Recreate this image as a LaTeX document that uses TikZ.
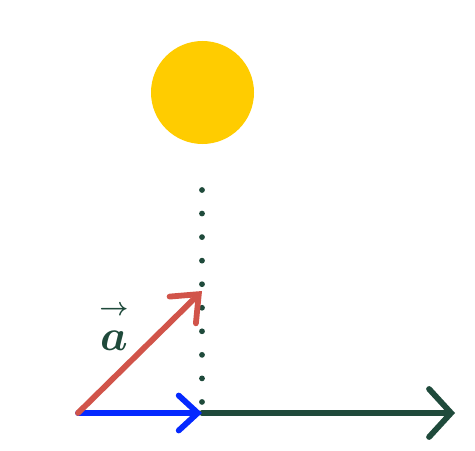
\documentclass[tikz,border=0pt]{standalone}
\usepackage{amsmath,bm}
\usetikzlibrary{arrows.meta,calc}
\usepackage{tkz-euclide}
\definecolor{SunClr}{rgb}{1,0.8,0}
\definecolor{VecClr}{rgb}{0.82,0.33,0.29}
\definecolor{ProjClr}{rgb}{0.02,0.16,1}
\definecolor{AxisClr}{rgb}{0.12,0.29,0.23}

\begin{document}
\begin{tikzpicture}
\useasboundingbox (0,0) rectangle (9.5,9);
\tkzSetUpLine[line width=3.3pt,color=black]

\tkzDefPoints{1.56/0.74/O,4.04/0.74/F,4.04/3.18/A,9.10/0.74/E}
\tkzDefPoints{4.05/7.15/S,5.08/7.15/X,4.04/5.20/T}

\tkzFillCircle[color=SunClr](S,X)

\tkzDrawSegment[color=AxisClr,line width=3.3pt,dash pattern=on 0pt off 0.471cm,line cap=round](T,F)

\tkzDrawSegment[color=AxisClr,line width=3.3pt,line cap=round,
  -{Straight Barb[length=0.44cm,width=0.96cm,line cap=round]}](F,E)
\tkzDrawSegment[color=ProjClr,line width=3.3pt,line cap=round,
  -{Straight Barb[length=0.38cm,width=0.7cm,line cap=round]}](O,F)
\tkzDrawSegment[color=VecClr,line width=3.3pt,line cap=round,
  -{Straight Barb[length=0.45cm,width=0.75cm,line cap=round]}](O,A)

\node[color=AxisClr,font=\fontsize{30}{36}\selectfont] (a) at (2.28,2.48)
  {$\overset{\raisebox{3.5pt}{$\scriptscriptstyle\bm{\rightarrow}$}}{\bm a}$};

\end{tikzpicture}
\end{document}
